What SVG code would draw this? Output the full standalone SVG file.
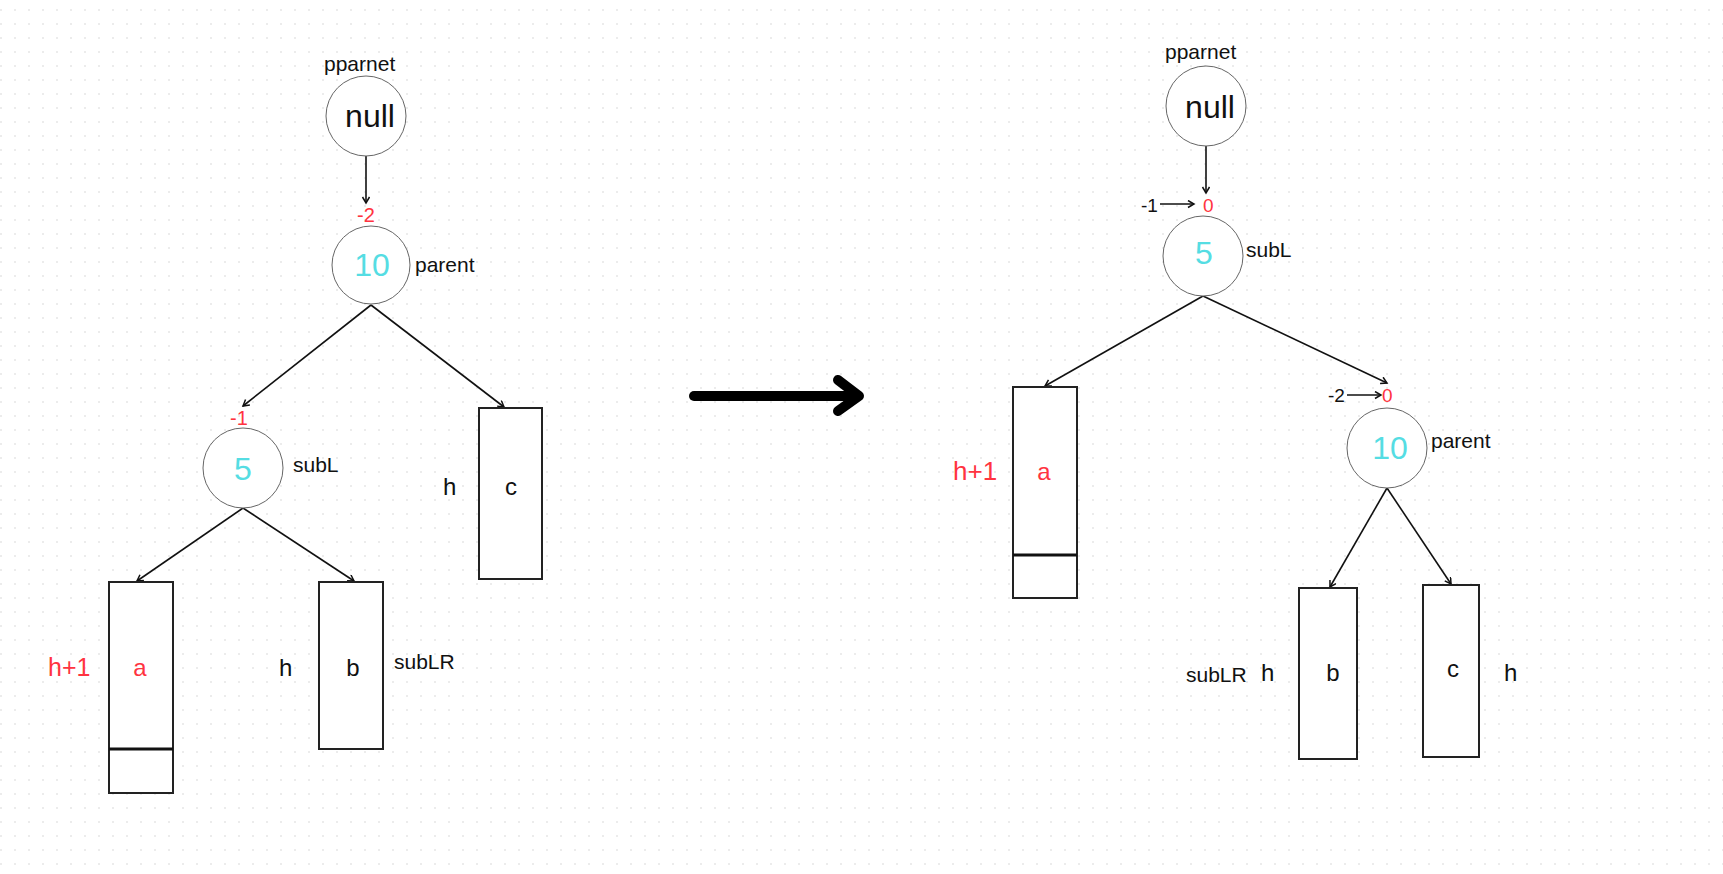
<svg xmlns="http://www.w3.org/2000/svg" width="1723" height="874" viewBox="0 0 1723 874">
<defs>
<pattern id="dots" x="0" y="0" width="14" height="14" patternUnits="userSpaceOnUse">
<rect x="0" y="9" width="2" height="2" fill="#ececec"/>
</pattern>
<marker id="ah" markerUnits="userSpaceOnUse" markerWidth="12" markerHeight="12" refX="7" refY="4" orient="auto">
<path d="M1,0.5 L7,4 L1,7.5" fill="none" stroke="#111" stroke-width="1.5"/>
</marker>
<style>
.t{font-family:"Liberation Sans",Arial,sans-serif;fill:#111}
.lab{font-size:21px}
.big{font-size:32px}
.cy{fill:#55dde3}
.red{fill:#ff3340}
.bf{font-size:19px}
.rf{font-size:20px}
.leaf{font-size:24px}
.circ{fill:#fff;stroke:#666;stroke-width:1}
.box{fill:#fff;stroke:#222;stroke-width:2}
.div{stroke:#111;stroke-width:3}
.ln{stroke:#111;stroke-width:1.6;fill:none;marker-end:url(#ah)}
</style>
</defs>
<rect width="1723" height="874" fill="#fff"/>
<rect width="1723" height="874" fill="url(#dots)"/>

<g id="connectors">
<line class="ln" x1="366" y1="156" x2="366" y2="203"/>
<line class="ln" x1="371" y1="305" x2="243" y2="406"/>
<line class="ln" x1="371" y1="305" x2="504" y2="407"/>
<line class="ln" x1="243" y1="508" x2="137" y2="581"/>
<line class="ln" x1="243" y1="508" x2="354" y2="581"/>
<line class="ln" x1="1206" y1="146" x2="1206" y2="193"/>
<line class="ln" x1="1160" y1="204" x2="1194" y2="204"/>
<line class="ln" x1="1203" y1="296" x2="1045" y2="386"/>
<line class="ln" x1="1203" y1="296" x2="1387" y2="383"/>
<line class="ln" x1="1347" y1="395" x2="1381" y2="395"/>
<line class="ln" x1="1387" y1="488" x2="1330" y2="587"/>
<line class="ln" x1="1387" y1="488" x2="1451" y2="584"/>
</g>

<g id="big-arrow" fill="none" stroke="#000" stroke-width="10" stroke-linecap="round" stroke-linejoin="round">
<line x1="694" y1="396" x2="857" y2="396"/>
<polyline points="838,380 859,396 838,411"/>
</g>

<!-- left tree -->
<g id="L-null">
<text class="t lab" x="324" y="71">pparnet</text>
<circle class="circ" cx="366" cy="116" r="40"/>
<text class="t big" x="370" y="127" text-anchor="middle">null</text>
</g>
<g id="L-parent">
<text class="t rf red" x="366" y="222" text-anchor="middle">-2</text>
<circle class="circ" cx="371" cy="265" r="39"/>
<text class="t big cy" x="372" y="276" text-anchor="middle">10</text>
<text class="t lab" x="415" y="272">parent</text>
</g>
<g id="L-subL">
<text class="t rf red" x="239" y="425" text-anchor="middle">-1</text>
<circle class="circ" cx="243" cy="468" r="40"/>
<text class="t big cy" x="243" y="480" text-anchor="middle">5</text>
<text class="t lab" x="293" y="472">subL</text>
</g>
<g id="L-c">
<rect class="box" x="479" y="408" width="63" height="171"/>
<text class="t leaf" x="443" y="495">h</text>
<text class="t leaf" x="511" y="495" text-anchor="middle">c</text>
</g>
<g id="L-a">
<rect class="box" x="109" y="582" width="64" height="211"/>
<line class="div" x1="109" y1="749" x2="173" y2="749"/>
<text class="t red" style="font-size:25px" x="48" y="676">h+1</text>
<text class="t leaf red" x="140" y="676" text-anchor="middle">a</text>
</g>
<g id="L-b">
<rect class="box" x="319" y="582" width="64" height="167"/>
<text class="t leaf" x="279" y="676">h</text>
<text class="t leaf" x="353" y="676" text-anchor="middle">b</text>
<text class="t lab" x="394" y="669">subLR</text>
</g>

<!-- right tree -->
<g id="R-null">
<text class="t lab" x="1165" y="59">pparnet</text>
<circle class="circ" cx="1206" cy="106" r="40"/>
<text class="t big" x="1210" y="118" text-anchor="middle">null</text>
</g>
<g id="R-subL">
<text class="t bf" x="1141" y="212">-1</text>
<text class="t bf red" x="1203" y="212">0</text>
<circle class="circ" cx="1203" cy="256" r="40"/>
<text class="t big cy" x="1204" y="264" text-anchor="middle">5</text>
<text class="t lab" x="1246" y="257">subL</text>
</g>
<g id="R-a">
<rect class="box" x="1013" y="387" width="64" height="211"/>
<line class="div" x1="1013" y1="555" x2="1077" y2="555"/>
<text class="t red" style="font-size:26px" x="953" y="480">h+1</text>
<text class="t leaf red" x="1044" y="480" text-anchor="middle">a</text>
</g>
<g id="R-parent">
<text class="t bf" x="1328" y="402">-2</text>
<text class="t bf red" x="1382" y="402">0</text>
<circle class="circ" cx="1387" cy="448" r="40"/>
<text class="t big cy" x="1390" y="459" text-anchor="middle">10</text>
<text class="t lab" x="1431" y="448">parent</text>
</g>
<g id="R-b">
<rect class="box" x="1299" y="588" width="58" height="171"/>
<text class="t lab" x="1186" y="682">subLR</text>
<text class="t leaf" x="1261" y="681">h</text>
<text class="t leaf" x="1333" y="681" text-anchor="middle">b</text>
</g>
<g id="R-c">
<rect class="box" x="1423" y="585" width="56" height="172"/>
<text class="t leaf" x="1453" y="677" text-anchor="middle">c</text>
<text class="t leaf" x="1504" y="681">h</text>
</g>
</svg>
